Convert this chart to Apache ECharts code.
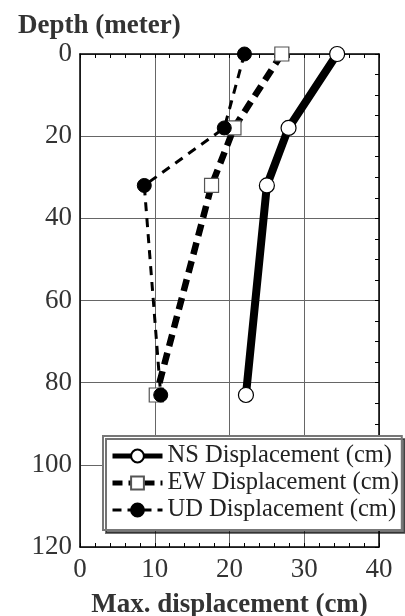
<!DOCTYPE html>
<html>
<head>
<meta charset="utf-8" />
<script src="https://cdn.jsdelivr.net/npm/echarts@6/dist/echarts.min.js"></script>
<style>
  html, body { margin: 0; padding: 0; background: #fff; }
  #main { width: 405px; height: 616px; }
</style>
</head>
<body>
<div id="main"></div>
<script type="text/javascript">
	// depth of each gauge (meter)
	var depths = [0, 18, 32, 83];
	// max displacement at each depth (cm)
	var nsDisp = [34.4, 27.9, 25.0, 22.2];
	var ewDisp = [27.0, 20.6, 17.6, 10.2];
	var udDisp = [22.0, 19.3, 8.6, 10.8];
	var seriesNames = ['NS Displacement (cm)', 'EW Displacement (cm)', 'UD Displacement (cm)'];

	var font = 'Liberation Serif';

	function pairs(xs) {
		var out = [];
		for (var i = 0; i < xs.length; i++) {
			out.push([xs[i], depths[i]]);
		}
		return out;
	}

	var myChart = echarts.init(document.getElementById('main'));

	var option = {
		animation: false,
		title: {
			text: 'Depth (meter)',
			left: 13,
			top: 8,
			textStyle: { fontFamily: font, fontSize: 27, fontWeight: 'bold', color: '#333' }
		},
		grid: { left: 80, right: 26, top: 54, bottom: 69, containLabel: false, outerBoundsMode: 'none' },
		legend: {
			orient: 'vertical',
			left: 103,
			top: 436,
			data: [
				{ name: seriesNames[0], lineStyle: { width: 5 } },
				{ name: seriesNames[1], lineStyle: { width: 5, type: [10, 6] } },
				{ name: seriesNames[2], lineStyle: { width: 3, type: [9, 6] } }
			],
			itemWidth: 50,
			itemHeight: 16,
			itemGap: 1,
			padding: [7, 3, 7, 7],
			backgroundColor: '#fff',
			borderColor: '#777',
			borderWidth: 2,
			borderRadius: 0,
			shadowColor: 'rgba(0,0,0,0.55)',
			shadowOffsetX: 3,
			shadowOffsetY: 3,
			shadowBlur: 0,
			textStyle: { fontFamily: font, fontSize: 24.5, color: '#222', lineHeight: 26 }
		},
		xAxis: [{
			type: 'value',
			position: 'bottom',
			min: 0, max: 40, interval: 10,
			name: 'Max. displacement (cm)',
			nameLocation: 'middle',
			nameGap: 45,
			nameTextStyle: { fontFamily: font, fontSize: 27, fontWeight: 'bold', color: '#333' },
			axisLine: { onZero: false, lineStyle: { color: '#000', width: 1.5 } },
			axisTick: { show: true, inside: true, length: 4, lineStyle: { color: '#000' } },
			minorTick: { show: true, splitNumber: 5, length: 4, lineStyle: { color: '#000' } },
			axisLabel: { fontFamily: font, fontSize: 27, color: '#333', margin: 9 },
			splitLine: { show: true, lineStyle: { color: '#666', width: 1 } }
		}, {
			type: 'value',
			position: 'top',
			min: 0, max: 40, interval: 2,
			axisLine: { onZero: false, lineStyle: { color: '#000', width: 1.5 } },
			axisTick: { show: true, inside: true, length: 4, lineStyle: { color: '#000' } },
			axisLabel: { show: false },
			splitLine: { show: false }
		}],
		yAxis: [{
			type: 'value',
			position: 'left',
			inverse: true,
			min: 0, max: 120, interval: 20,
			axisLine: { show: true, onZero: false, lineStyle: { color: '#000', width: 1.5 } },
			axisTick: { show: false },
			axisLabel: { fontFamily: font, fontSize: 27, color: '#333', margin: 8 },
			splitLine: { show: true, lineStyle: { color: '#666', width: 1 } }
		}, {
			type: 'value',
			position: 'right',
			inverse: true,
			min: 0, max: 120, interval: 5,
			axisLine: { show: true, onZero: false, lineStyle: { color: '#000', width: 1.5 } },
			axisTick: { show: true, inside: true, length: 4, lineStyle: { color: '#000' } },
			axisLabel: { show: false },
			splitLine: { show: false }
		}],
		series: [{
			name: seriesNames[0],
			type: 'line',
			data: pairs(nsDisp),
			symbol: 'circle',
			symbolSize: 15,
			lineStyle: { color: '#000', width: 8, type: 'solid' },
			itemStyle: { color: '#fff', borderColor: '#000', borderWidth: 1.2 },
			z: 3
		}, {
			name: seriesNames[1],
			type: 'line',
			data: pairs(ewDisp),
			symbol: 'rect',
			symbolSize: 14,
			lineStyle: { color: '#000', width: 6.5, type: [12, 7] },
			itemStyle: { color: '#fff', borderColor: '#555', borderWidth: 1.2 },
			z: 4
		}, {
			name: seriesNames[2],
			type: 'line',
			data: pairs(udDisp),
			symbol: 'circle',
			symbolSize: 14,
			lineStyle: { color: '#000', width: 3, type: [9, 7] },
			itemStyle: { color: '#000', borderColor: '#000', borderWidth: 1 },
			z: 5
		}]
	};

	myChart.setOption(option);
</script>
</body>
</html>
